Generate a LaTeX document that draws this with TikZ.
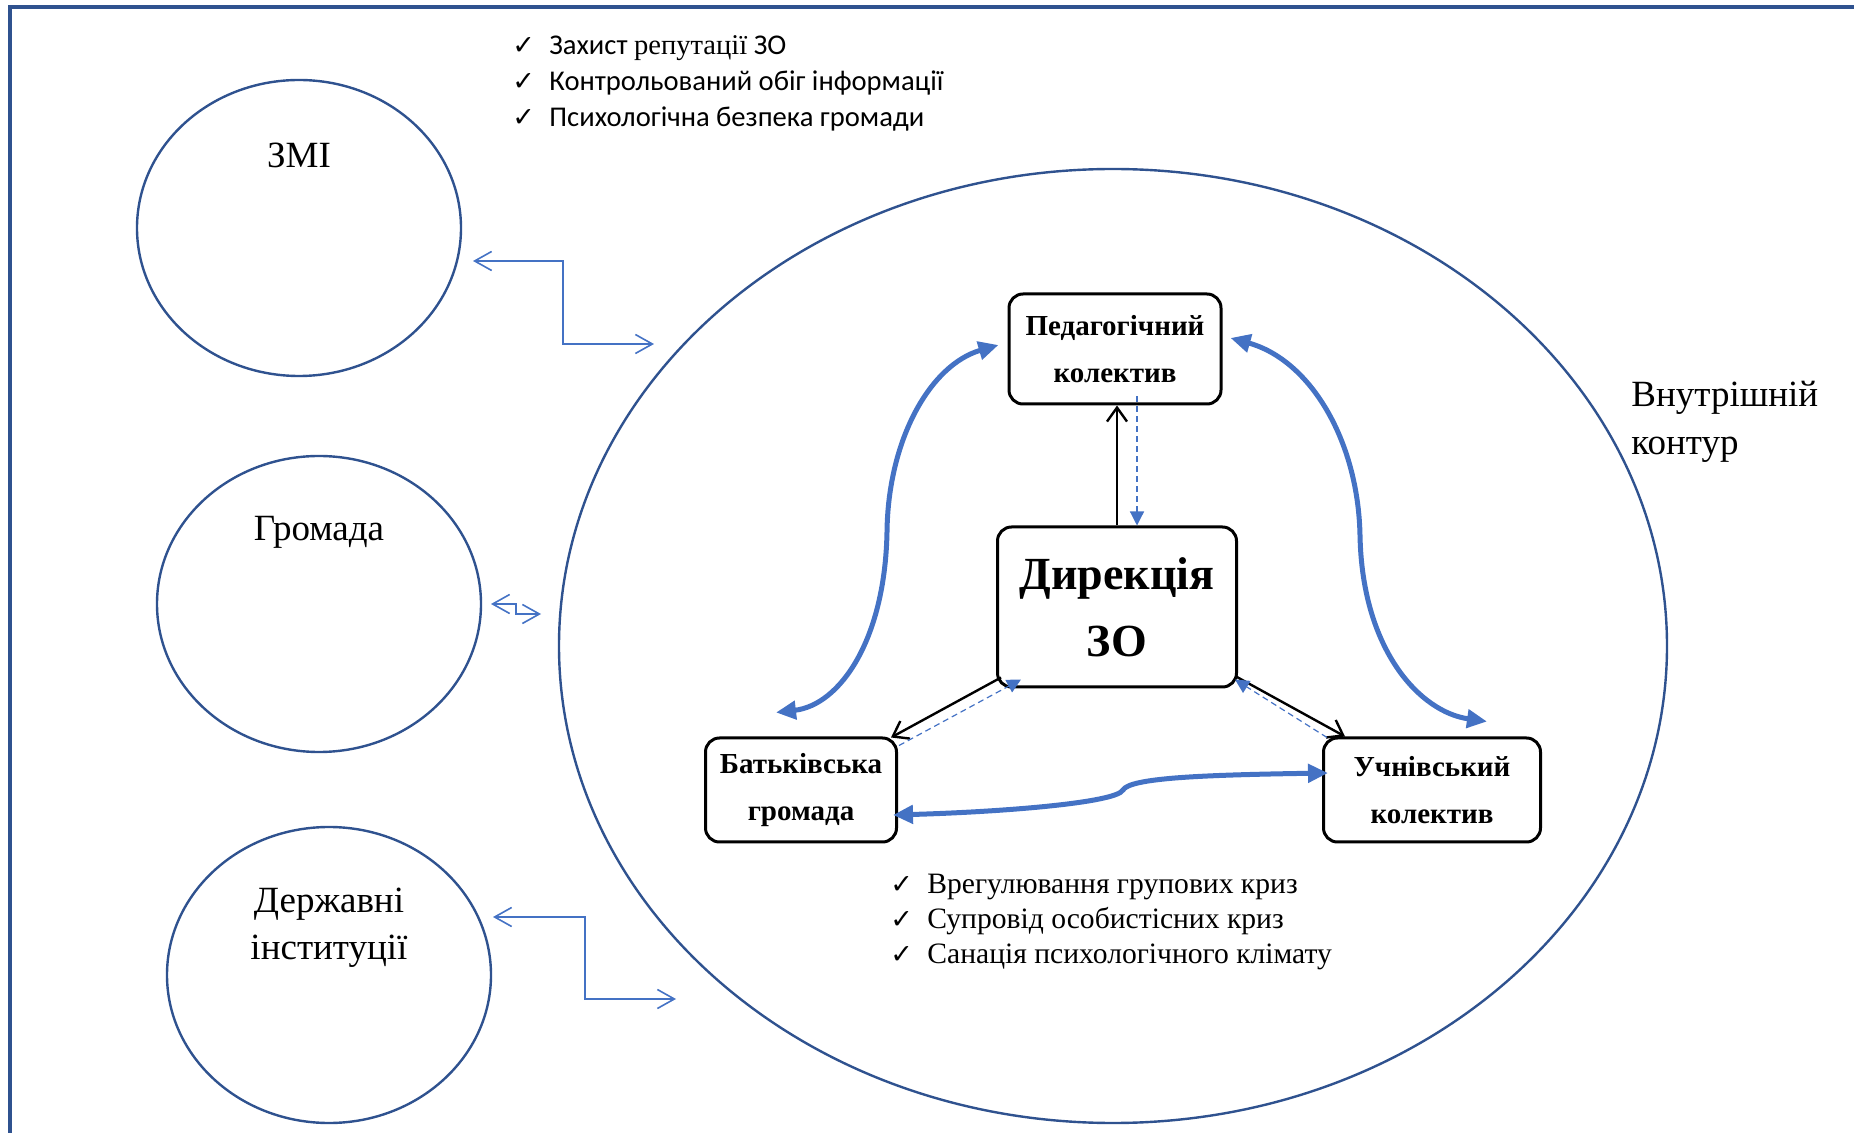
\documentclass[tikz,border=0pt]{standalone}
\usepackage{fontspec}
\setmainfont{Liberation Serif}
\newfontfamily\calibrifont{Carlito}
\newfontfamily\tickfont{DejaVu Sans}
\usetikzlibrary{arrows.meta,shapes.geometric,calc}
\definecolor{framecolor}{RGB}{47,82,143}
\definecolor{linkcolor}{RGB}{68,114,196}
\newcommand{\checkitem}{\makebox[18.5pt][l]{\tickfont\fontsize{13.5}{13.5}\selectfont ✓}}
\tikzset{
  oval/.style={ellipse, draw=framecolor, line width=1.2pt, inner sep=0pt,
    minimum width=162pt, minimum height=148pt},
  unit/.style={draw, line width=1.5pt, rounded corners=7pt, align=center, inner sep=0pt,
    font=\bfseries\fontsize{14.5}{23.5}\selectfont},
  label/.style={align=center, inner sep=0pt, font=\fontsize{18.5}{23.5}\selectfont},
  ctrl/.style={-{Straight Barb[length=7pt,width=10pt]}, line width=1.2pt},
  fb/.style={-{Triangle[length=7pt,width=7pt]}, linkcolor, line width=0.6pt,
    dash pattern=on 3pt off 2pt},
  link/.style={{Triangle[length=10pt,width=9pt]}-{Triangle[length=10pt,width=9pt]},
    linkcolor, line width=2.5pt},
  elbow/.style={{Straight Barb[length=8.5pt,width=9.5pt]}-{Straight Barb[length=8.5pt,width=9.5pt]},
    linkcolor, line width=0.8pt}
}
\begin{document}
\begin{tikzpicture}[x=0.5pt, y=-0.5pt]
    \useasboundingbox (0,0) rectangle (1854,1133);
    % Frame
    \draw[framecolor, line width=2pt] (10,1140) -- (10,7) -- (1860,7);
    % Outer partners
    \node[oval] (zmi) at (299,228) {};
    \node[oval] (hromada) at (319,604) {};
    \node[oval] (derzh) at (329,975) {};
    \node[label] (zmitext) at (299,155) {ЗМІ};
    \node[label] (hromadatext) at (319,532) {Громада};
    \node[label] (derzhtext) at (329,928) {Державні\\інституції};
    % Inner contour
    \node[oval, minimum width=554pt, minimum height=477pt] (inner) at (1113,646) {};
    \node[label, anchor=west, align=left, font=\fontsize{18.5}{24}\selectfont] (innertext) at (1631,422) {Внутрішній\\контур};
    % Goals
    \node[anchor=west, align=left, inner sep=0pt, font=\calibrifont\fontsize{14.3}{18}\selectfont] (goals) at (512,83)
      {\checkitem Захист {\rmfamily репутації} ЗО\\
       \checkitem Контрольований обіг інформації\\
       \checkitem Психологічна безпека громади};
    \node[anchor=west, align=left, inner sep=0pt, font=\fontsize{14.8}{17.5}\selectfont] (tasks) at (890,922)
      {\checkitem Врегулювання групових криз\\
       \checkitem Супровід особистісних криз\\
       \checkitem Санація психологічного клімату};
    % Units
    \node[unit, minimum width=106pt, minimum height=55pt] (ped) at (1115,349) {Педагогічний\\колектив};
    \node[unit, minimum width=119.5pt, minimum height=80pt, font=\bfseries\fontsize{23}{33.5}\selectfont] (dir) at (1117,607) {Дирекція\\ЗО};
    \node[unit, minimum width=95.5pt, minimum height=52pt] (batk) at (801,790) {Батьківська\\громада};
    \node[unit, minimum width=108.5pt, minimum height=52pt] (uchn) at (1432,790) {Учнівський\\колектив};
    % Direction and feedback
    \draw[ctrl] (dir.north) -- (dir.north |- ped.south);
    \draw[fb] ($(ped.south)+(22,-9)$) -- ($(dir.north)+(20,0)$);
    \draw[ctrl] ($(dir.south west)+(5,-11)$) -- ($(batk.north east)+(-7,1)$);
    \draw[fb] ($(batk.north east)+(1,9)$) -- ($(dir.south west)+(25,-9)$);
    \draw[ctrl] ($(dir.south east)+(-2,-12)$) -- ($(uchn.north west)+(23,0)$);
    \draw[fb] ($(uchn.north west)+(5,1)$) -- ($(dir.south east)+(-3,-9)$);
    % Links between units
    \draw[link] ($(ped.west)+(-9,-4)$) .. controls (930,365) and (888,440) .. (887,532)
      .. controls (885,640) and (840,705) .. ($(batk.north)+(-25,-24)$);
    \draw[link] ($(ped.east)+(8,-11)$) .. controls (1310,360) and (1358,440) .. (1360,535)
      .. controls (1362,650) and (1420,712) .. ($(uchn.north)+(55,-15)$);
    \draw[link] ($(uchn.west)+(6,-17)$) .. controls (1200,775) and (1130,778) .. (1123,790)
      .. controls (1116,803) and (1000,812) .. ($(batk.east)+(-5,25)$);
    % Exchange with partners
    \coordinate (zmiA) at (473,261);
    \coordinate (zmiB) at (654,344);
    \coordinate (hromadaA) at (491,604);
    \coordinate (hromadaB) at (541,614);
    \coordinate (derzhA) at (493,917);
    \coordinate (derzhB) at (676,999);
    \draw[elbow] (zmiA) -| (563,302) |- (zmiB);
    \draw[elbow] (hromadaA) -| (516,609) |- (hromadaB);
    \draw[elbow] (derzhA) -| (585,958) |- (derzhB);
\end{tikzpicture}
\end{document}
